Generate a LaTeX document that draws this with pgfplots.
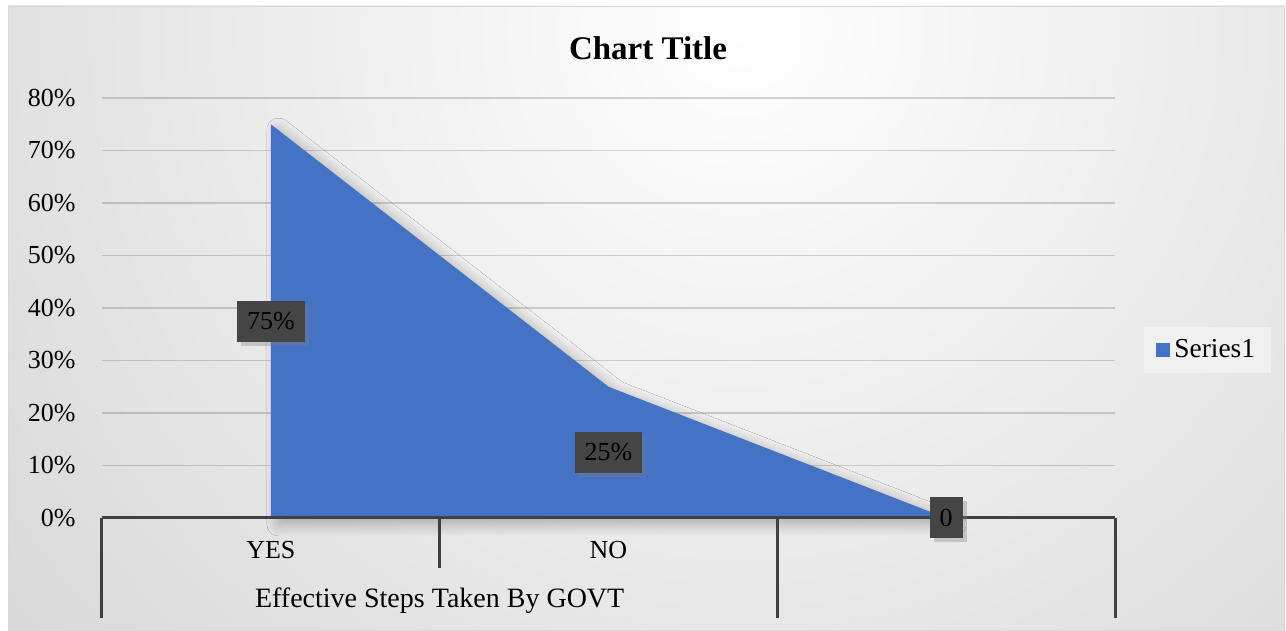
\documentclass[border=0pt]{standalone}
\usepackage{fontspec}
\setmainfont{Liberation Serif}
\usepackage{pgfplots}
\pgfplotsset{compat=1.18}
\usetikzlibrary{shadows,shadows.blur}
\definecolor{areablue}{HTML}{4472C4}
\definecolor{axisdark}{HTML}{404040}
\definecolor{labelbox}{HTML}{454545}

\begin{document}
\begin{tikzpicture}
\useasboundingbox (0,0) rectangle (643pt,315.5pt);
\fill[white] (0,0) rectangle (643pt,315.5pt);
% chart background
\begin{scope}
\clip (4pt,0.5pt) rectangle (642pt,312.5pt);
\fill[gray!46] (0,0) rectangle (643pt,315.5pt);
\shade[inner color=white, outer color=gray!46] (370pt,300pt) circle (720pt);
\end{scope}
\draw[gray!30] (4pt,0.5pt) rectangle (642pt,312.5pt);
\node[font=\bfseries\fontsize{16.5}{20}\selectfont] at (324pt,291.5pt) {Chart Title};

\begin{axis}[
  at={(51pt,56.5pt)}, anchor=south west,
  scale only axis, width=506.5pt, height=210pt,
  xmin=-0.5, xmax=2.5, ymin=0, ymax=80,
  xtick={0,1}, xticklabels={YES,NO},
  ytick={0,10,...,80},
  yticklabel={\pgfmathprintnumber{\tick}\%},
  /pgf/number format/assume math mode=true,
  major tick length=0pt,
  axis line style={draw=none},
  ymajorgrids, grid style={black, opacity=0.16, line width=0.6pt},
  tick label style={font=\fontsize{13}{15}\selectfont},
  yticklabel style={xshift=-9.7pt},
  xticklabel style={anchor=center, yshift=-16pt},
  clip=false,
  legend style={at={(1,0.4)}, anchor=west, xshift=14.5pt, fill=gray!12,
    draw=none, font=\fontsize{13.7}{16}\selectfont, inner xsep=6pt, inner ysep=4pt},
  legend image code/.code={\fill[areablue] (0pt,-3.5pt) rectangle (7pt,3.5pt);},
]
% soft shadow behind the area
\addplot[forget plot, draw=none,
  blur shadow={shadow xshift=4pt, shadow yshift=-3pt, shadow blur radius=6pt,
    shadow blur steps=12, shadow opacity=28}]
  coordinates {(0,75) (1,25) (2,0)} \closedcycle;
\addplot[fill=areablue, draw=none]
  coordinates {(0,75) (1,25) (2,0)} \closedcycle;
\legend{Series1}

% category axis with group separators
\draw[axisdark, line width=1.5pt] (axis cs:-0.5,0) -- (axis cs:2.5,0);
\draw[axisdark, line width=1.5pt] (axis cs:-0.5,0) -- ([yshift=-50pt]axis cs:-0.5,0);
\draw[axisdark, line width=1.5pt] (axis cs:0.5,0) -- ([yshift=-25pt]axis cs:0.5,0);
\draw[axisdark, line width=1.5pt] (axis cs:1.5,0) -- ([yshift=-50pt]axis cs:1.5,0);
\draw[axisdark, line width=1.5pt] (axis cs:2.5,0) -- ([yshift=-50pt]axis cs:2.5,0);
\node[font=\fontsize{14}{16}\selectfont] at ([yshift=-41.5pt]axis cs:0.5,0) {Effective Steps Taken By GOVT};

% data labels, centred in the area
\addplot[draw=none, mark=none, forget plot, nodes near coords, point meta=explicit symbolic,
  nodes near coords style={anchor=center, fill=labelbox, text=black,
    font=\fontsize{13}{15}\selectfont, inner xsep=5pt, minimum height=20.5pt,
    drop shadow={shadow xshift=2pt, shadow yshift=-2pt, opacity=0.35}}]
  coordinates {(0,37.5) [75\%] (1,12.5) [25\%] (2,0) [0]};
\end{axis}
\end{tikzpicture}
\end{document}
